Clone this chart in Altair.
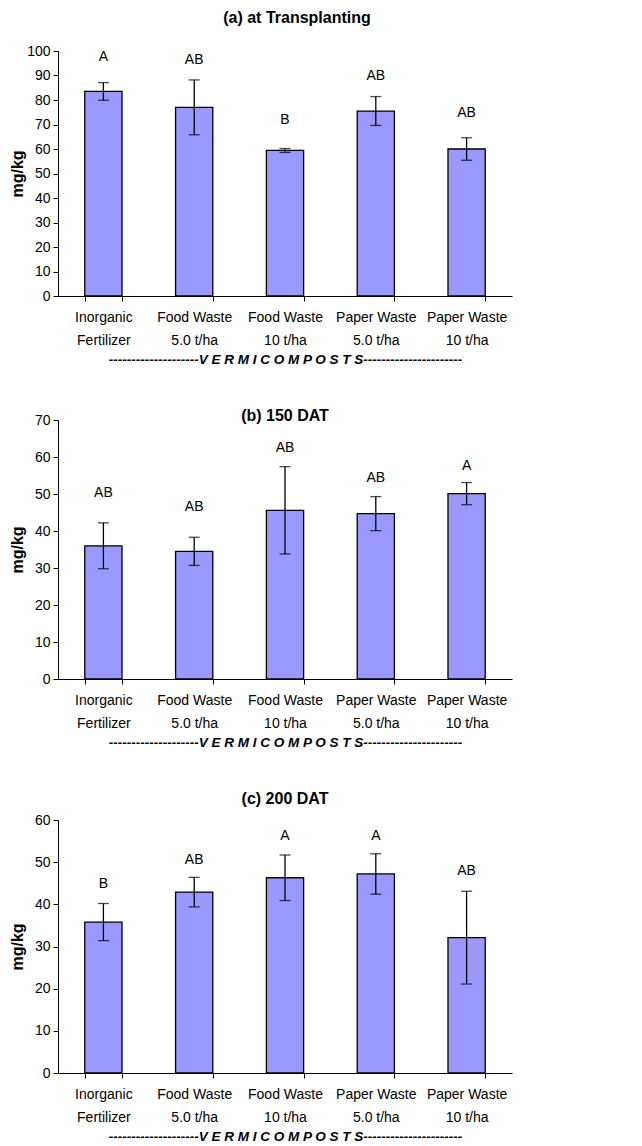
import altair as alt
import pandas as pd

FONT = "Liberation Sans"
BAR_COLOR = "#9999FF"

cats_a = ["Inorganic|Fertilizer", "Food Waste|5.0 t/ha", "Food Waste|10  t/ha",
          "Paper Waste|5.0 t/ha", "Paper Waste|10  t/ha"]
cats_b = ["Inorganic|Fertilizer", "Food Waste|5.0 t/ha", "Food Waste|10 t/ha",
          "Paper Waste|5.0 t/ha", "Paper Waste|10 t/ha"]
cats_c = ["Inorganic|Fertilizer", "Food Waste|5.0 t/ha", "Food Waste|10 t/ha",
          "Paper Waste|5.0 t/ha", "Paper Waste|10  t/ha"]

mean_a = [83.5, 77.0, 59.4, 75.5, 60.0]
err_a = [3.6, 11.2, 0.8, 5.9, 4.6]
letters_a = ["A", "AB", "B", "AB", "AB"]
letter_y_a = [97.5, 96.2, 71.7, 89.6, 74.7]

mean_b = [36.0, 34.5, 45.6, 44.7, 50.1]
err_b = [6.2, 3.8, 11.8, 4.6, 3.0]
letters_b = ["AB", "AB", "AB", "AB", "A"]
letter_y_b = [50.2, 46.5, 62.5, 54.4, 57.7]

mean_c = [35.8, 42.9, 46.3, 47.2, 32.1]
err_c = [4.4, 3.5, 5.4, 4.8, 11.0]
letters_c = ["B", "AB", "A", "A", "AB"]
letter_y_c = [44.8, 50.4, 56.3, 56.3, 48.0]

group_title = "-" * 20 + "V E R M I C O M P O S T S" + "-" * 22


def panel(title, cats, means, errs, letters, letter_y, ymax, height,
          title_offset, title_dx):
    df = pd.DataFrame({
        "cat": cats,
        "mean": means,
        "lo": [m - e for m, e in zip(means, errs)],
        "hi": [m + e for m, e in zip(means, errs)],
        "letter": letters,
        "ly": letter_y,
    })
    xs = alt.Scale(paddingInner=0.59, paddingOuter=0.295)
    xaxis = alt.Axis(title=group_title, labelExpr="split(datum.label, '|')",
                     labelAngle=0, tickBand="extent", labelLineHeight=23,
                     labelPadding=9, tickSize=5, titlePadding=5,
                     titleFont=FONT, titleFontSize=13.5, titleFontWeight="bold",
                     titleFontStyle="italic")
    tick_values = list(range(0, ymax + 1, 10))
    ys = alt.Scale(domain=[0, ymax], nice=False)
    yaxis = alt.Axis(values=tick_values, title="mg/kg",
                     labelOverlap=False, tickCount=len(tick_values),
                     titleFont=FONT, titleFontSize=16, titleFontWeight="bold",
                     titleX=-33, titleY=height / 2, titleAngle=270,
                     titleBaseline="bottom", titleAlign="center",
                     tickSize=5, labelPadding=3, grid=False)

    def X():
        return alt.X("cat:N", sort=cats, scale=xs, axis=xaxis)

    def Y(field):
        return alt.Y(field, scale=ys, axis=yaxis)

    base = alt.Chart(df)
    bars = base.mark_bar(color=BAR_COLOR, stroke="black", strokeWidth=1.3).encode(
        x=X(), y=Y("mean:Q"))
    rule = base.mark_rule(color="black", strokeWidth=1.3).encode(
        x=X(), y=Y("lo:Q"), y2="hi:Q")
    cap_hi = base.mark_tick(color="black", size=11, thickness=1.3).encode(
        x=X(), y=Y("hi:Q"))
    cap_lo = base.mark_tick(color="black", size=11, thickness=1.3).encode(
        x=X(), y=Y("lo:Q"))
    txt = base.mark_text(font=FONT, fontSize=14, baseline="middle", color="black").encode(
        x=X(), y=Y("ly:Q"), text="letter:N")
    return alt.layer(bars, rule, cap_hi, cap_lo, txt).properties(
        width=454, height=height,
        title=alt.TitleParams(title, font=FONT, fontSize=16, fontWeight="bold",
                              anchor="middle", offset=title_offset, dx=title_dx,
                              color="black"))


pa = panel("(a) at Transplanting", cats_a, mean_a, err_a, letters_a, letter_y_a,
           100, 245, 18, 12)
pb = panel("(b) 150 DAT", cats_b, mean_b, err_b, letters_b, letter_y_b,
           70, 259, -11, 0)
pc = panel("(c) 200 DAT", cats_c, mean_c, err_c, letters_c, letter_y_c,
           60, 253, 6, 0)

chart = alt.vconcat(pa, pb, pc, spacing=42).properties(
    padding={"left": 9, "top": 10, "right": 5, "bottom": 2},
    background="white",
).configure_view(stroke=None).configure_axis(
    domainColor="black", tickColor="black", labelColor="black", titleColor="black",
    labelFont=FONT, labelFontSize=14, domainWidth=1, tickWidth=1,
)

chart.save("out.html", embed_options={"renderer": "svg", "actions": False})
